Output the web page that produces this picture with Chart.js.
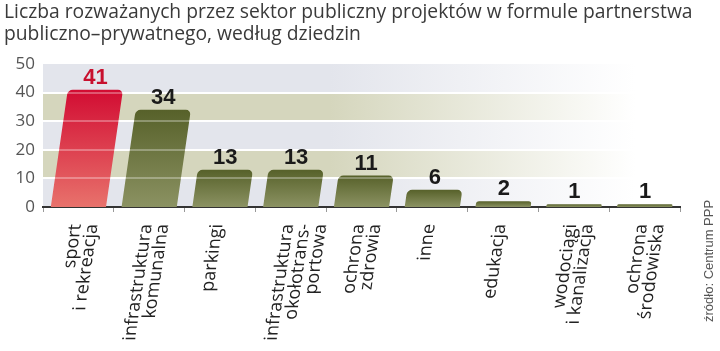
<!DOCTYPE html>
<html><head><meta charset="utf-8">
<script src="https://cdn.jsdelivr.net/npm/chart.js@4"></script>
<style>html,body{margin:0;padding:0;background:#fff}#wrap{width:720px;height:351px;position:relative}</style>
</head><body><div id="wrap"><canvas id="c" width="720" height="351"></canvas></div>
<script>
const categories = [["sport","i rekreacja"],["infrastruktura","komunalna"],["parkingi"],["infrastruktura","okołotrans-","portowa"],["ochrona","zdrowia"],["inne"],["edukacja"],["wodociągi","i kanalizacja"],["ochrona","środowiska"]];
const values = [41,34,13,13,11,6,2,1,1];
const yTicks = [0,10,20,30,40,50];
const titleLines = ["Liczba rozważanych przez sektor publiczny projektów w formule partnerstwa","publiczno–prywatnego, według dziedzin"];
const sourceText = "źródło: Centrum PPP";

const SKEW = 0.145;
const bandColors = ["#e3e5ec","#d5d6bd"];

function skew(ctx, y0){ ctx.transform(1,0,-SKEW,1,SKEW*y0,0); }

const bgPlugin = {
  id:'bg',
  beforeDraw(chart){
    const {ctx, chartArea:a, scales:{y}} = chart;
    ctx.save();
    ctx.fillStyle='#fff'; ctx.fillRect(0,0,chart.width,chart.height);
    for(let i=0;i<yTicks.length-1;i++){
      const y0=y.getPixelForValue(yTicks[i]), y1=y.getPixelForValue(yTicks[i+1]);
      const c = bandColors[i%2];
      const g = ctx.createLinearGradient(a.left,0,a.right,0);
      g.addColorStop(0,c); g.addColorStop(0.45,c); g.addColorStop(0.93,'#ffffff'); g.addColorStop(1,'#ffffff');
      ctx.fillStyle=g; ctx.fillRect(a.left,y1,a.right-a.left,y0-y1);
    }
    ctx.strokeStyle='#ffffff'; ctx.lineWidth=2;
    for(let i=1;i<yTicks.length-1;i++){
      const yy=Math.round(y.getPixelForValue(yTicks[i]));
      ctx.beginPath(); ctx.moveTo(a.left,yy); ctx.lineTo(a.right,yy); ctx.stroke();
    }
    ctx.fillStyle='#3a3a3a'; ctx.font='19.3px "Open Sans", sans-serif'; ctx.textBaseline='alphabetic'; ctx.textAlign='left';
    ctx.fillText(titleLines[0],4,18);
    ctx.fillText(titleLines[1],4,40);
    ctx.translate(716,322); ctx.rotate(-Math.PI/2);
    ctx.fillStyle='#555'; ctx.font='13px "Liberation Sans", sans-serif'; ctx.textAlign='left'; ctx.textBaseline='bottom';
    ctx.fillText(sourceText,0,0);
    ctx.restore();
  },
  beforeDatasetsDraw(chart){
    chart.ctx.save();
    skew(chart.ctx, chart.scales.y.getPixelForValue(0));
  },
  afterDatasetsDraw(chart){
    const {ctx, chartArea:a, scales:{y}} = chart;
    ctx.save();
    ctx.setTransform(1,0,0,1,0,0);
    ctx.strokeStyle='rgba(255,255,255,0.3)'; ctx.lineWidth=2;
    for(let i=1;i<yTicks.length-1;i++){
      const yy=Math.round(y.getPixelForValue(yTicks[i]));
      ctx.beginPath(); ctx.moveTo(a.left,yy); ctx.lineTo(a.right,yy); ctx.stroke();
    }
    const y0 = y.getPixelForValue(0);
    const meta = chart.getDatasetMeta(0);
    ctx.font='bold 22px "Liberation Sans", sans-serif';
    ctx.textAlign='center'; ctx.textBaseline='alphabetic';
    meta.data.forEach((bar,i)=>{
      const x = bar.x + SKEW*(y0-bar.y);
      ctx.fillStyle = i===0 ? '#c8102e' : '#1a1a1a';
      ctx.fillText(String(values[i]), x, bar.y-6);
    });
    ctx.restore();
    // skew stays active for the x tick labels layer (z=1), restored in afterDraw
  },
  afterDraw(chart){
    chart.ctx.restore();
  }
};

function barColor(c){
  const chart=c.chart, a=chart.chartArea;
  const red = c.dataIndex===0;
  if(!a) return red?'#d81e3a':'#6b7438';
  const y=chart.scales.y;
  const top=y.getPixelForValue(values[c.dataIndex]), bot=y.getPixelForValue(0);
  const g=chart.ctx.createLinearGradient(0,top,0,bot+0.01);
  if(red){g.addColorStop(0,'#d20c32');g.addColorStop(1,'#e8726c');}
  else{g.addColorStop(0,'#57612a');g.addColorStop(1,'#8b9262');}
  return g;
}

new Chart(document.getElementById('c'),{
  type:'bar',
  data:{labels:categories,datasets:[{data:values,backgroundColor:barColor,borderRadius:{topLeft:5,topRight:5,bottomLeft:0,bottomRight:0},borderSkipped:'bottom',barPercentage:0.78,categoryPercentage:1}]},
  plugins:[bgPlugin],
  options:{
    responsive:false,animation:false,devicePixelRatio:1,
    layout:{padding:{left:0,right:40,top:64,bottom:0}},
    plugins:{legend:{display:false},tooltip:{enabled:false},title:{display:false}},
    scales:{
      x:{
        grid:{display:true,drawOnChartArea:false,drawTicks:true,tickLength:5,color:'#999',offset:true,z:-1},
        border:{display:true,color:'#333',width:2,z:0},
        ticks:{z:1,color:'#222',font:{family:'"Open Sans", sans-serif',size:18,lineHeight:0.92},minRotation:90,maxRotation:90,autoSkip:false,padding:12},
        afterFit(s){s.height=144;}
      },
      y:{
        min:0,max:50,
        afterBuildTicks(s){s.ticks=yTicks.map(v=>({value:v}));},
        grid:{display:false,z:-1},
        border:{display:false,z:0},
        ticks:{z:0,color:'#555',font:{family:'"Open Sans", sans-serif',size:17},padding:0},
        afterFit(s){s.width=43;}
      }
    }
  }
});
</script></body></html>
